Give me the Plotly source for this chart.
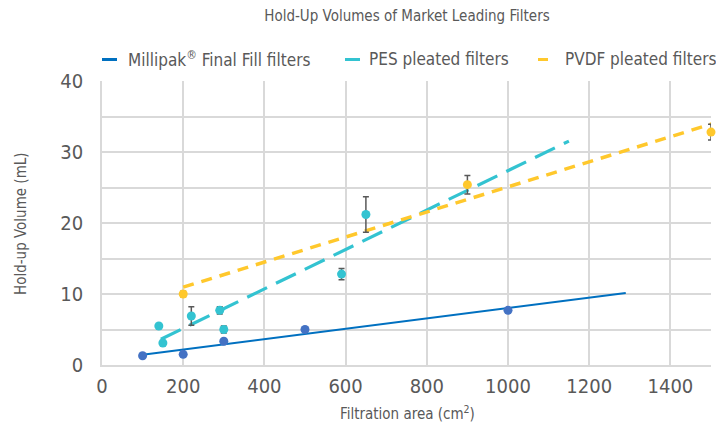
import numpy as np
import plotly.graph_objects as go

# ---- data ----
millipak_x = [100, 200, 300, 500, 1000]
millipak_y = [1.3, 1.5, 3.35, 5.0, 7.7]

pes_x = [140, 150, 220, 290, 300, 590, 650]
pes_y = [5.5, 3.1, 6.9, 7.7, 5.0, 12.8, 21.2]
pes_err = [0.0, 0.35, 1.3, 0.5, 0.5, 0.8, 2.5]

pvdf_x = [200, 900, 1500]
pvdf_y = [10.0, 25.4, 32.8]
pvdf_err = [0.4, 1.3, 1.1]

# trendline extents (start, forecast end) in cm2
millipak_trend_range = [100, 1290]
pes_trend_range = [145, 1150]
pvdf_trend_range = [200, 1560]

series_names = ["Millipak<sup>®</sup> Final Fill filters", "PES pleated filters", "PVDF pleated filters"]
x_ticks = [0, 200, 400, 600, 800, 1000, 1200, 1400]
y_ticks = [0, 5, 10, 15, 20, 25, 30, 35, 40]
y_tick_text = ["0", "", "10", "", "20", "", "30", "", "40"]

# ---- styles ----
FONT = "DejaVu Sans Condensed, DejaVu Sans"
GRAY = "#595959"
GRID = "#D9D9D9"
C_MIL_LINE = "#0070C0"
C_MIL_MK = "#4472C4"
C_PES = "#33C3D1"
C_PVDF = "#FFC82C"


def trend(xs, ys, rng):
    m, b = np.polyfit(xs, ys, 1)
    tx = np.array(rng, dtype=float)
    return tx, m * tx + b


fig = go.Figure()

tx, ty = trend(millipak_x, millipak_y, millipak_trend_range)
fig.add_trace(go.Scatter(x=tx, y=ty, mode="lines", line=dict(color=C_MIL_LINE, width=2), showlegend=False))
tx, ty = trend(pes_x, pes_y, pes_trend_range)
fig.add_trace(go.Scatter(x=tx, y=ty, mode="lines", line=dict(color=C_PES, width=3.2, dash="22px,10px"), showlegend=False))
tx, ty = trend(pvdf_x, pvdf_y, pvdf_trend_range)
fig.add_trace(go.Scatter(x=tx, y=ty, mode="lines", line=dict(color=C_PVDF, width=3.5, dash="11px,8px"), showlegend=False))

err_style = dict(type="data", color=GRAY, thickness=1.5, width=3)
fig.add_trace(go.Scatter(x=millipak_x, y=millipak_y, mode="markers",
                         marker=dict(color=C_MIL_MK, size=9), showlegend=False, cliponaxis=False))
fig.add_trace(go.Scatter(x=pes_x, y=pes_y, mode="markers",
                         error_y=dict(array=pes_err, **err_style),
                         marker=dict(color=C_PES, size=9), showlegend=False, cliponaxis=False))
fig.add_trace(go.Scatter(x=pvdf_x, y=pvdf_y, mode="markers",
                         error_y=dict(array=pvdf_err, **err_style),
                         marker=dict(color=C_PVDF, size=9), showlegend=False, cliponaxis=False))

# ---- manual legend (paper coords) ----
L, R, T, B = 102, 5, 81, 66
W, H = 716 - L - R, 431 - T - B


def px(x):
    return (x - L) / W


def py(y):
    return (431 - B - y) / H


legend_items = [(series_names[0], C_MIL_LINE, 102, 117, 126),
                (series_names[1], C_PES, 345, 360, 367),
                (series_names[2], C_PVDF, 538, 548, 563)]
shapes, annotations = [], []
for name, col, x0, x1, xt in legend_items:
    shapes.append(dict(type="line", xref="paper", yref="paper", x0=px(x0), x1=px(x1),
                       y0=py(59.5), y1=py(59.5), line=dict(color=col, width=3)))
    annotations.append(dict(text=name, xref="paper", yref="paper", x=px(xt), y=py(59.5),
                            xanchor="left", yanchor="middle", showarrow=False,
                            font=dict(family=FONT, size=17, color=GRAY)))

# axis titles as annotations for exact placement
annotations.append(dict(text="Filtration area (cm<sup>2</sup>)", xref="paper", yref="paper",
                        x=px(407), y=py(413), xanchor="center", yanchor="middle", showarrow=False,
                        font=dict(family=FONT, size=15, color=GRAY)))
annotations.append(dict(text="Hold-up Volume (mL)", xref="paper", yref="paper", textangle=-90,
                        x=px(21), y=py(224), xanchor="center", yanchor="middle", showarrow=False,
                        font=dict(family=FONT, size=15, color=GRAY)))

fig.update_layout(
    width=716, height=431,
    margin=dict(l=L, r=R, t=T, b=B, autoexpand=False),
    paper_bgcolor="white", plot_bgcolor="white",
    title=dict(text="Hold-Up Volumes of Market Leading Filters", x=407 / 716, xanchor="center",
               y=1 - 16 / 431, yanchor="middle", font=dict(family=FONT, size=15, color=GRAY)),
    showlegend=False,
    shapes=shapes, annotations=annotations,
    font=dict(family=FONT, color=GRAY),
    xaxis=dict(range=[0, 1500], tickvals=x_ticks, showgrid=True, gridcolor=GRID, gridwidth=1.5,
               showline=True, linecolor=GRID, linewidth=1.5, zeroline=False, ticks="",
               ticklabelstandoff=2, automargin=False,
               tickfont=dict(family=FONT, size=20, color=GRAY)),
    yaxis=dict(range=[0, 40], tickvals=y_ticks, ticktext=y_tick_text, showgrid=True, gridcolor=GRID,
               gridwidth=1.5, showline=True, linecolor=GRID, linewidth=1.5, zeroline=False, ticks="",
               ticklabelstandoff=13, automargin=False,
               tickfont=dict(family=FONT, size=20, color=GRAY)),
)

fig.write_html("out.html", config={"displayModeBar": False},
               post_script="document.body.style.margin='0';")
